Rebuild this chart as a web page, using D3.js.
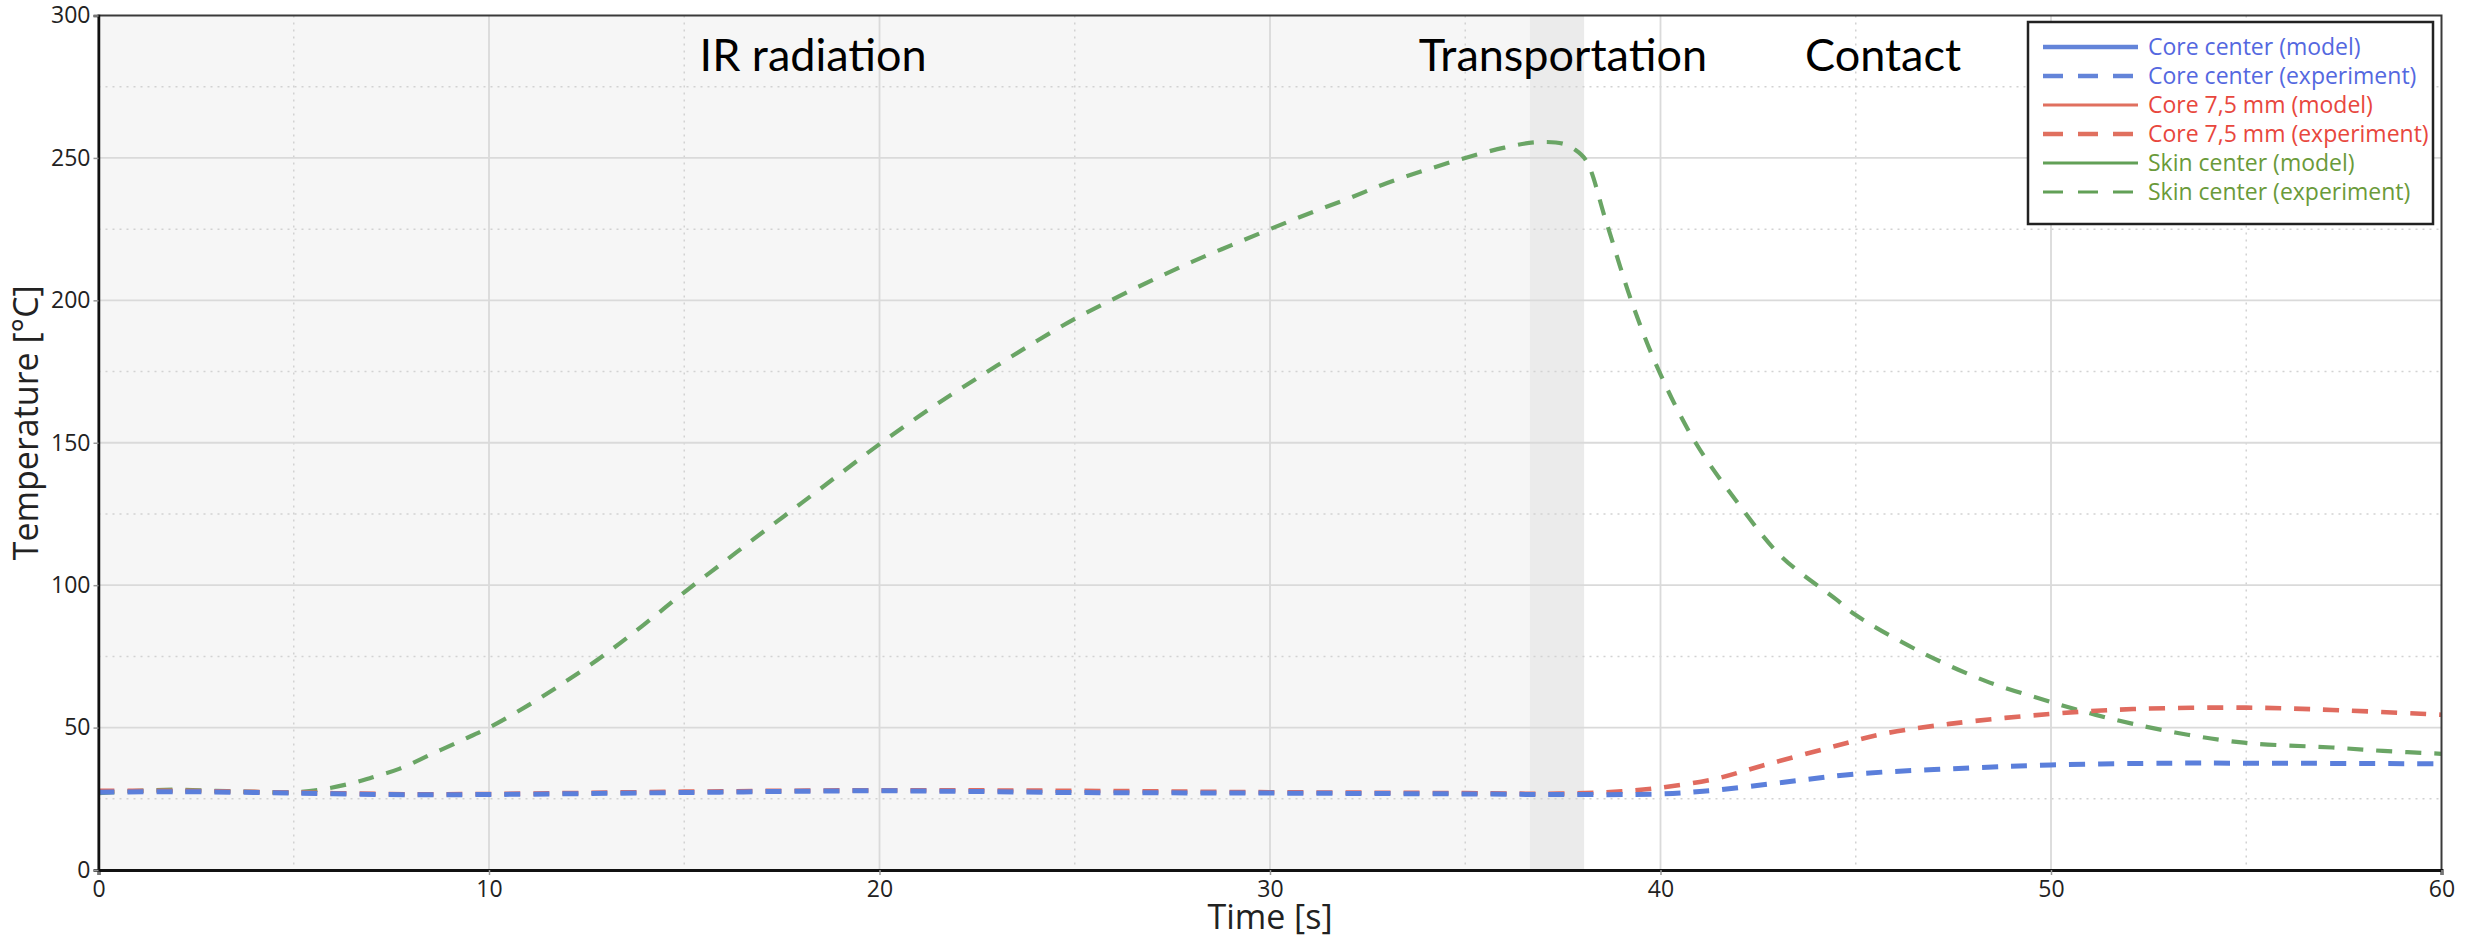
<!DOCTYPE html>
<html>
<head>
<meta charset="utf-8">
<script src="https://cdn.jsdelivr.net/npm/d3@7"></script>
<style>
  html, body { margin: 0; padding: 0; background: #fff; }
  svg { display: block; }
  .tick-label { font-family: "Open Sans", sans-serif; font-size: 23px; fill: #222; }
  .axis-title { font-family: "Open Sans", sans-serif; font-size: 34px; fill: #222; }
  .phase-label { font-family: Lato, "Open Sans", sans-serif; font-size: 45px; fill: #000; }
  .legend-label { font-family: "Open Sans", sans-serif; font-size: 23px; }
</style>
</head>
<body>
<div id="chart"></div>
<script>
// Time [s] / Temperature [°C]
const skinExperiment = [
  [0, 27], [1, 27.8], [2, 28.2], [3, 27.8], [4, 27.4], [5, 27.3], [5.8, 28.5],
  [6.5, 30.5], [7, 32.5], [7.7, 35.5], [8.5, 40.5], [9.3, 45.5], [10, 50],
  [11, 57.8], [12, 66.5], [13, 76], [14, 86.5], [15, 97.5], [16, 108],
  [17, 118.5], [18, 128.8], [19, 139.2], [20, 149.5], [21, 159.2], [22, 168.3],
  [23, 177], [24, 185.5], [25, 193.5], [26, 200.5], [27, 207.2], [28, 213.5],
  [29, 219.3], [30, 225], [31, 230.5], [32, 235.7], [33, 241.2], [34, 245.8],
  [35, 250], [36, 253.6], [36.8, 255.5], [37.5, 255], [37.8, 253], [38.1, 249],
  [38.6, 228], [39.3, 198], [40, 174], [40.9, 150], [42, 128.5], [43.1, 110],
  [44.5, 95], [45, 89.5], [46.6, 77], [48.3, 66.5], [50, 59], [51, 55],
  [52.1, 51.3], [53.5, 47.5], [55, 44.6], [57.2, 43], [58.5, 41.8], [60, 40.8]
];
const core75Experiment = [
  [0, 27.8], [2, 27.8], [5, 27.2], [8, 26.6], [10, 26.7], [15, 27.5],
  [20, 28], [25, 27.8], [30, 27.3], [35, 27], [37.4, 26.8], [39, 27.6],
  [40, 28.9], [41.4, 32], [42.6, 36.6], [44.5, 43.6], [45.7, 47.8],
  [47.4, 51.3], [50, 54.8], [52.1, 56.5], [55, 57], [57.2, 56.2], [60, 54.5]
];
const coreCenterExperiment = [
  [0, 27.3], [2, 27.5], [5, 27], [8, 26.4], [10, 26.5], [15, 27.2],
  [20, 27.8], [25, 27.2], [30, 27], [35, 26.7], [37.4, 26.5], [40, 26.7],
  [41.4, 28], [43.1, 30.7], [45, 33.7], [47.4, 35.5], [50, 36.9], [53, 37.5],
  [55, 37.5], [60, 37.3]
];

const phases = [
  { name: "IR radiation", start: 0, end: 36.65, labelAt: 18.3 },
  { name: "Transportation", start: 36.65, end: 38.05, labelAt: 37.5 },
  { name: "Contact", start: 38.05, end: 60, labelAt: 45.7 }
];

const xMajorTicks = [0, 10, 20, 30, 40, 50, 60];
const xMinorTicks = [5, 15, 25, 35, 45, 55];
const yMajorTicks = [0, 50, 100, 150, 200, 250, 300];
const yMinorTicks = [25, 75, 125, 175, 225, 275];

const legendItems = [
  { label: "Core center (model)", color: "#6384d9", text: "#5468e0", dash: null, width: 4.5 },
  { label: "Core center (experiment)", color: "#6384d9", text: "#5468e0", dash: "20 15", width: 4.5 },
  { label: "Core 7,5 mm (model)", color: "#e0705f", text: "#e8473d", dash: null, width: 3 },
  { label: "Core 7,5 mm (experiment)", color: "#e0705f", text: "#e8473d", dash: "20 15", width: 4.5 },
  { label: "Skin center (model)", color: "#62a057", text: "#6a9a3a", dash: null, width: 3 },
  { label: "Skin center (experiment)", color: "#62a057", text: "#6a9a3a", dash: "20 15", width: 3 }
];

const series = [
  { data: skinExperiment, color: "#6aa565", width: 4.2 },
  { data: core75Experiment, color: "#e06b5f", width: 4.6 },
  { data: coreCenterExperiment, color: "#5b7fdb", width: 5 }
];

const width = 2466;
const height = 947;
const margin = { top: 15.5, right: 24.5, bottom: 77, left: 98.5 };
const innerWidth = width - margin.left - margin.right;
const innerHeight = height - margin.top - margin.bottom;

const svg = d3.select("#chart")
  .append("svg")
  .attr("width", width)
  .attr("height", height);

const g = svg.append("g")
  .attr("transform", `translate(${margin.left},${margin.top})`);

const x = d3.scaleLinear().domain([0, 60]).range([0, innerWidth]);
const y = d3.scaleLinear().domain([0, 300]).range([innerHeight, 0]);

// phase backgrounds
const phaseFill = ["#f6f6f6", "#ebebeb", "#ffffff"];
g.selectAll("rect.phase")
  .data(phases)
  .enter()
  .append("rect")
  .attr("class", "phase")
  .attr("x", (d) => x(d.start))
  .attr("y", 0)
  .attr("width", (d) => x(d.end) - x(d.start))
  .attr("height", innerHeight)
  .attr("fill", (d, i) => phaseFill[i]);

// grid lines
g.selectAll("line.x-minor")
  .data(xMinorTicks)
  .enter()
  .append("line")
  .attr("x1", (d) => x(d)).attr("x2", (d) => x(d))
  .attr("y1", 0).attr("y2", innerHeight)
  .attr("stroke", "#d2d2d2")
  .attr("stroke-width", 1.5)
  .attr("stroke-dasharray", "2 5");

g.selectAll("line.y-minor")
  .data(yMinorTicks)
  .enter()
  .append("line")
  .attr("x1", 0).attr("x2", innerWidth)
  .attr("y1", (d) => y(d)).attr("y2", (d) => y(d))
  .attr("stroke", "#d2d2d2")
  .attr("stroke-width", 1.5)
  .attr("stroke-dasharray", "2 5");

g.selectAll("line.x-major")
  .data(xMajorTicks.slice(1, -1))
  .enter()
  .append("line")
  .attr("x1", (d) => x(d)).attr("x2", (d) => x(d))
  .attr("y1", 0).attr("y2", innerHeight)
  .attr("stroke", "#dadada")
  .attr("stroke-width", 1.8);

g.selectAll("line.y-major")
  .data(yMajorTicks.slice(1, -1))
  .enter()
  .append("line")
  .attr("x1", 0).attr("x2", innerWidth)
  .attr("y1", (d) => y(d)).attr("y2", (d) => y(d))
  .attr("stroke", "#dadada")
  .attr("stroke-width", 1.8);

// phase labels
g.selectAll("text.phase-label")
  .data(phases)
  .enter()
  .append("text")
  .attr("class", "phase-label")
  .attr("x", (d) => x(d.labelAt))
  .attr("y", 55)
  .attr("text-anchor", "middle")
  .text((d) => d.name);

// curves
const line = d3.line()
  .x((d) => x(d[0]))
  .y((d) => y(d[1]))
  .curve(d3.curveCatmullRom.alpha(0.5));

series.forEach((s) => {
  g.append("path")
    .datum(s.data)
    .attr("fill", "none")
    .attr("stroke", s.color)
    .attr("stroke-width", s.width)
    .attr("stroke-dasharray", "16 13")
    .attr("d", line);
});

// frame
g.append("rect")
  .attr("x", 0).attr("y", 0)
  .attr("width", innerWidth).attr("height", innerHeight)
  .attr("fill", "none")
  .attr("stroke", "#3a3a3a")
  .attr("stroke-width", 2);

// axes
const xAxis = d3.axisBottom(x).tickValues(xMajorTicks).tickSize(5).tickPadding(6);
const yAxis = d3.axisLeft(y).tickValues(yMajorTicks).tickSize(5).tickPadding(3);

const gx = g.append("g")
  .attr("transform", `translate(0,${innerHeight})`)
  .call(xAxis);
gx.select(".domain").attr("stroke", "#111").attr("stroke-width", 3);
gx.selectAll(".tick line").attr("stroke", "#999").attr("stroke-width", 1.5);
gx.selectAll(".tick text").attr("class", "tick-label").attr("font-size", null).attr("font-family", null);

const gy = g.append("g").call(yAxis);
gy.select(".domain").attr("stroke", "#111").attr("stroke-width", 2.5);
gy.selectAll(".tick line").attr("stroke", "#999").attr("stroke-width", 1.5);
gy.selectAll(".tick text").attr("class", "tick-label").attr("font-size", null).attr("font-family", null);

g.append("text")
  .attr("class", "axis-title")
  .attr("x", innerWidth / 2)
  .attr("y", innerHeight + 59)
  .attr("text-anchor", "middle")
  .text("Time [s]");

g.append("text")
  .attr("class", "axis-title")
  .attr("transform", "rotate(-90)")
  .attr("x", -y(157))
  .attr("y", -61)
  .attr("text-anchor", "middle")
  .text("Temperature [°C]");

// legend
const legend = svg.append("g").attr("transform", "translate(2028,22)");
legend.append("rect")
  .attr("width", 405)
  .attr("height", 202)
  .attr("fill", "#fff")
  .attr("stroke", "#222")
  .attr("stroke-width", 2.5);

const rowY = d3.scalePoint().domain(legendItems.map((d) => d.label)).range([25, 170]);

legendItems.forEach((d) => {
  const ry = rowY(d.label);
  legend.append("line")
    .attr("x1", 15).attr("x2", 110)
    .attr("y1", ry).attr("y2", ry)
    .attr("stroke", d.color)
    .attr("stroke-width", d.width)
    .attr("stroke-dasharray", d.dash);
  legend.append("text")
    .attr("class", "legend-label")
    .attr("x", 120)
    .attr("y", ry)
    .attr("dy", "0.35em")
    .attr("fill", d.text)
    .text(d.label);
});
</script>
</body>
</html>
